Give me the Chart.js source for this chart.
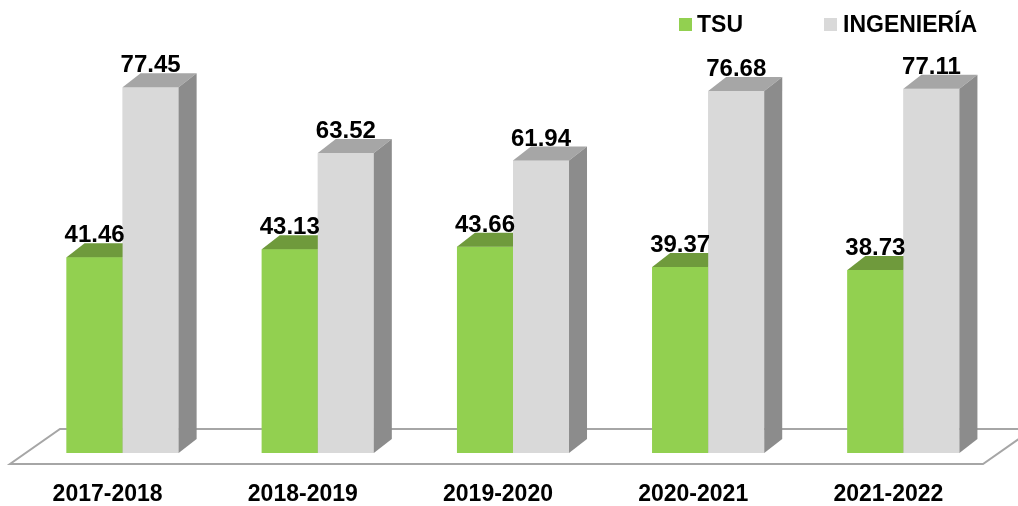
<!DOCTYPE html>
<html>
<head>
<meta charset="utf-8">
<script src="https://cdn.jsdelivr.net/npm/chart.js@4.4.1/dist/chart.umd.min.js"></script>
<style>
  body { margin: 0; background: #fff; }
  #wrap { width: 1018px; height: 506px; position: relative; }
</style>
</head>
<body>
<div id="wrap"><canvas id="bar"></canvas></div>
<script>
// datos
const periodos = ["2017-2018", "2018-2019", "2019-2020", "2020-2021", "2021-2022"];
const tsu = [41.46, 43.13, 43.66, 39.37, 38.73];
const ingenieria = [77.45, 63.52, 61.94, 76.68, 77.11];

const FONT = "'Liberation Sans', Arial, sans-serif";
const DX = 18, DY = -14; // profundidad 3D

// piso en perspectiva
const floorPlugin = {
    id: 'floor',
    beforeDatasetsDraw(chart) {
        const { ctx, chartArea } = chart;
        const base = chart.scales.y.getPixelForValue(0);
        const fy = base + 11, by = base - 24;
        const lx = chartArea.left - 15, rx = chartArea.right - 18;
        ctx.save();
        ctx.beginPath();
        ctx.moveTo(lx, fy);
        ctx.lineTo(rx, fy);
        ctx.lineTo(rx + 50, by);
        ctx.lineTo(lx + 50, by);
        ctx.closePath();
        ctx.fillStyle = '#fff';
        ctx.fill();
        ctx.strokeStyle = '#a6a6a6';
        ctx.lineWidth = 2;
        ctx.stroke();
        ctx.restore();
    }
};

// caras 3D + etiquetas + leyenda
const boxPlugin = {
    id: 'box3d',
    afterDatasetsDraw(chart) {
        const ctx = chart.ctx;
        chart.data.datasets.forEach((ds, di) => {
            const meta = chart.getDatasetMeta(di);
            meta.data.forEach(el => {
                el.draw(ctx);
                const l = el.x - el.width / 2, r = el.x + el.width / 2;
                ctx.save();
                ctx.fillStyle = ds.topColor;
                ctx.beginPath();
                ctx.moveTo(l, el.y);
                ctx.lineTo(r, el.y);
                ctx.lineTo(r + DX, el.y + DY);
                ctx.lineTo(l + DX, el.y + DY);
                ctx.closePath();
                ctx.fill();
                ctx.fillStyle = ds.sideColor;
                ctx.beginPath();
                ctx.moveTo(r, el.y);
                ctx.lineTo(r + DX, el.y + DY);
                ctx.lineTo(r + DX, el.base + DY);
                ctx.lineTo(r, el.base);
                ctx.closePath();
                ctx.fill();
                ctx.restore();
            });
        });
        // etiquetas de valor
        ctx.save();
        ctx.font = 'bold 24px ' + FONT;
        ctx.fillStyle = '#000';
        ctx.textAlign = 'center';
        ctx.textBaseline = 'alphabetic';
        chart.data.datasets.forEach((ds, di) => {
            chart.getDatasetMeta(di).data.forEach((el, i) => {
                ctx.fillText(ds.data[i].toFixed(2), el.x, el.y + DY - 1);
            });
        });
        ctx.restore();
    },
    afterDraw(chart) {
        const ctx = chart.ctx;
        const items = [[679, 697], [824, 843]];
        ctx.save();
        ctx.font = 'bold 23px ' + FONT;
        ctx.textBaseline = 'alphabetic';
        chart.data.datasets.forEach((ds, di) => {
            const [bx, tx] = items[di];
            ctx.fillStyle = ds.backgroundColor;
            ctx.fillRect(bx, 18, 13, 13);
            ctx.fillStyle = '#000';
            ctx.fillText(ds.label, tx, 32);
        });
        ctx.restore();
    }
};

const ctxBar = document.getElementById("bar").getContext("2d");

const chart = new Chart(ctxBar, {
    type: 'bar',
    data: {
        labels: periodos,
        datasets: [
            {
                label: 'TSU',
                data: tsu,
                backgroundColor: '#92d050',
                topColor: '#6f9a3c',
                sideColor: '#6f9a3c',
                categoryPercentage: 0.574,
                barPercentage: 1.0
            },
            {
                label: 'INGENIERÍA',
                data: ingenieria,
                backgroundColor: '#d9d9d9',
                topColor: '#a6a6a6',
                sideColor: '#8c8c8c',
                categoryPercentage: 0.574,
                barPercentage: 1.0
            }
        ]
    },
    options: {
        responsive: true,
        maintainAspectRatio: false,
        animation: false,
        layout: { padding: { top: 28, left: 25, right: 17, bottom: 0 } },
        plugins: {
            legend: { display: false },
            tooltip: { enabled: false }
        },
        scales: {
            x: {
                grid: { display: false, drawTicks: false },
                border: { display: false },
                afterFit(scale) { scale.height = 53; },
                ticks: {
                    color: '#000',
                    padding: 30,
                    labelOffset: -15,
                    font: { family: FONT, size: 23, weight: 'bold', lineHeight: 1 }
                }
            },
            y: {
                display: false,
                min: 0,
                max: 90
            }
        }
    },
    plugins: [floorPlugin, boxPlugin]
});
</script>
</body>
</html>
